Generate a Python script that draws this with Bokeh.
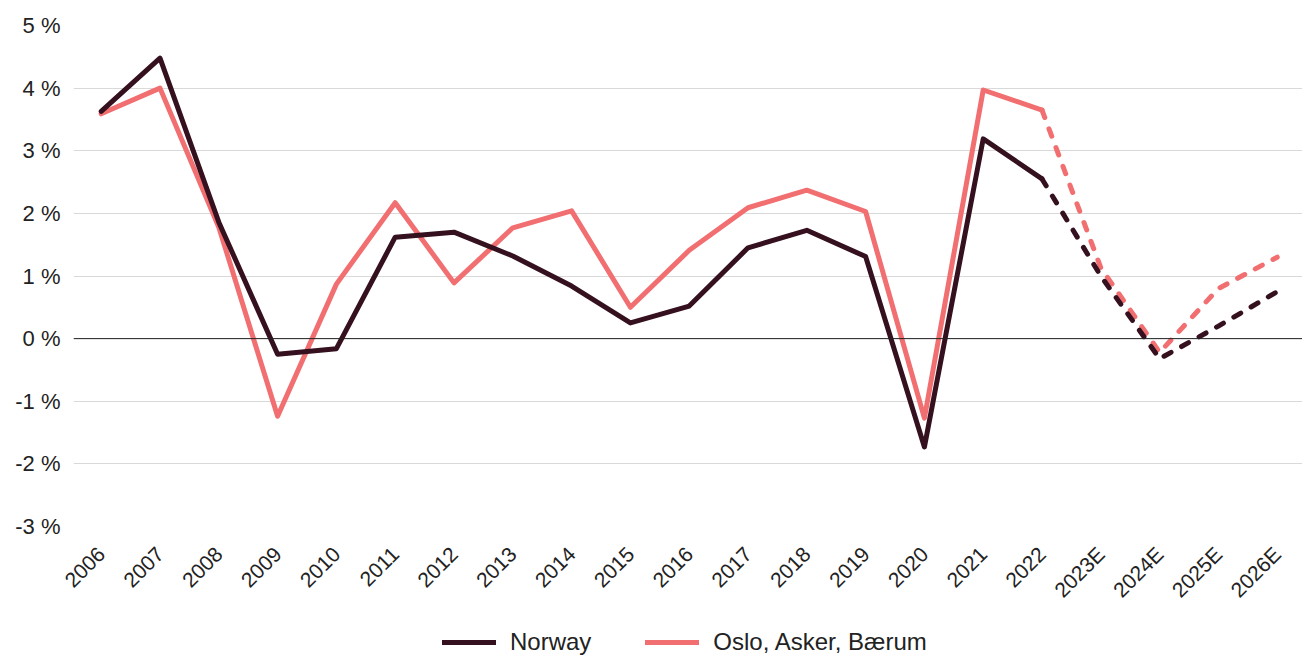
import math
from bokeh.plotting import figure
from bokeh.layouts import column
from bokeh.models import (Range1d, FixedTicker, Span, Legend, LegendItem, ColumnDataSource)
from bokeh.embed import file_html
from bokeh.resources import INLINE

years = ["2006", "2007", "2008", "2009", "2010", "2011", "2012", "2013", "2014", "2015",
         "2016", "2017", "2018", "2019", "2020", "2021", "2022", "2023E", "2024E", "2025E", "2026E"]
norway = [3.63, 4.48, 1.86, -0.25, -0.16, 1.62, 1.70, 1.32, 0.84, 0.25,
          0.52, 1.45, 1.73, 1.31, -1.73, 3.19, 2.55, 1.00, -0.32, 0.20, 0.75]
oslo = [3.59, 4.00, 1.78, -1.24, 0.87, 2.17, 0.89, 1.77, 2.04, 0.50,
        1.41, 2.09, 2.37, 2.03, -1.27, 3.97, 3.65, 1.13, -0.22, 0.80, 1.30]
y_ticks = [-3, -2, -1, 0, 1, 2, 3, 4, 5]
last_actual = "2022"
series_names = ["Norway", "Oslo, Asker, Bærum"]

FONT = "Liberation Sans"
NOR_COLOR = "#35101f"
OSLO_COLOR = "#f26f71"

idx = list(range(len(years)))
cut = years.index(last_actual)

p = figure(frame_width=1229, frame_height=501, output_backend="svg", toolbar_location=None,
           x_range=Range1d(-0.471, 20.43), y_range=Range1d(-3, 5),
           min_border_left=73, min_border_right=0, min_border_top=25, min_border_bottom=82)
p.outline_line_color = None
p.background_fill_color = "white"
p.border_fill_color = "white"

src_solid = ColumnDataSource(dict(x=idx[:cut + 1], nor=norway[:cut + 1], osl=oslo[:cut + 1]))
src_dash = ColumnDataSource(dict(x=idx[cut:], nor=norway[cut:], osl=oslo[cut:]))

zero = Span(location=0, dimension="width", line_color="#222222", line_width=1)
p.add_layout(zero)

p.line("x", "osl", source=src_solid, line_color=OSLO_COLOR, line_width=5,
       line_join="round", line_cap="round")
p.line("x", "osl", source=src_dash, line_color=OSLO_COLOR, line_width=5,
       line_dash="8 12", line_join="round", line_cap="round")
p.line("x", "nor", source=src_solid, line_color=NOR_COLOR, line_width=5,
       line_join="round", line_cap="round")
p.line("x", "nor", source=src_dash, line_color=NOR_COLOR, line_width=5,
       line_dash="8 12", line_join="round", line_cap="round")

# axes
p.xaxis.ticker = FixedTicker(ticks=idx)
p.xaxis.major_label_overrides = {i: y for i, y in enumerate(years)}
p.xaxis.major_label_orientation = math.pi / 4
p.xaxis.axis_line_color = None
p.xaxis.major_tick_line_color = None
p.xaxis.minor_tick_line_color = None
p.xaxis.major_label_text_font = FONT
p.xaxis.major_label_text_font_size = "21px"
p.xaxis.major_label_text_color = "#222222"
p.xaxis.major_label_standoff = 18

p.yaxis.ticker = FixedTicker(ticks=y_ticks)
p.yaxis.major_label_overrides = {v: f"{v} %" for v in y_ticks}
p.yaxis.axis_line_color = None
p.yaxis.major_tick_line_color = None
p.yaxis.minor_tick_line_color = None
p.yaxis.major_label_text_font = FONT
p.yaxis.major_label_text_font_size = "22px"
p.yaxis.major_label_text_color = "#222222"
p.yaxis.major_label_standoff = 7

p.xgrid.grid_line_color = None
p.ygrid.grid_line_color = "#d9d9d9"
p.ygrid.grid_line_width = 1

# legend strip (its line renderers lie outside the visible range; only the legend shows)
lg = figure(frame_width=1302, frame_height=44, output_backend="svg", toolbar_location=None,
            x_range=Range1d(0, 1), y_range=Range1d(0, 1),
            min_border_left=0, min_border_right=0, min_border_top=0, min_border_bottom=0)
lg.outline_line_color = None
lg.axis.visible = False
lg.grid.visible = False
off = ColumnDataSource(dict(x=[-10, -9], y=[-10, -10]))
l_nor = lg.line("x", "y", source=off, line_color=NOR_COLOR, line_width=5, line_cap="round")
l_osl = lg.line("x", "y", source=off, line_color=OSLO_COLOR, line_width=5, line_cap="round")

legend = Legend(items=[LegendItem(label=series_names[0], renderers=[l_nor]),
                       LegendItem(label=series_names[1], renderers=[l_osl])],
                orientation="horizontal", location=(442, 0))
legend.label_text_font = FONT
legend.label_text_font_size = "24px"
legend.label_text_color = "#222222"
legend.glyph_width = 54
legend.glyph_height = 20
legend.label_standoff = 14
legend.spacing = 54
legend.border_line_color = None
legend.background_fill_color = None
legend.padding = 0
legend.margin = 0
lg.add_layout(legend, "center")

layout = column(p, lg, spacing=0)
open("out.html", "w").write(file_html(layout, INLINE))
